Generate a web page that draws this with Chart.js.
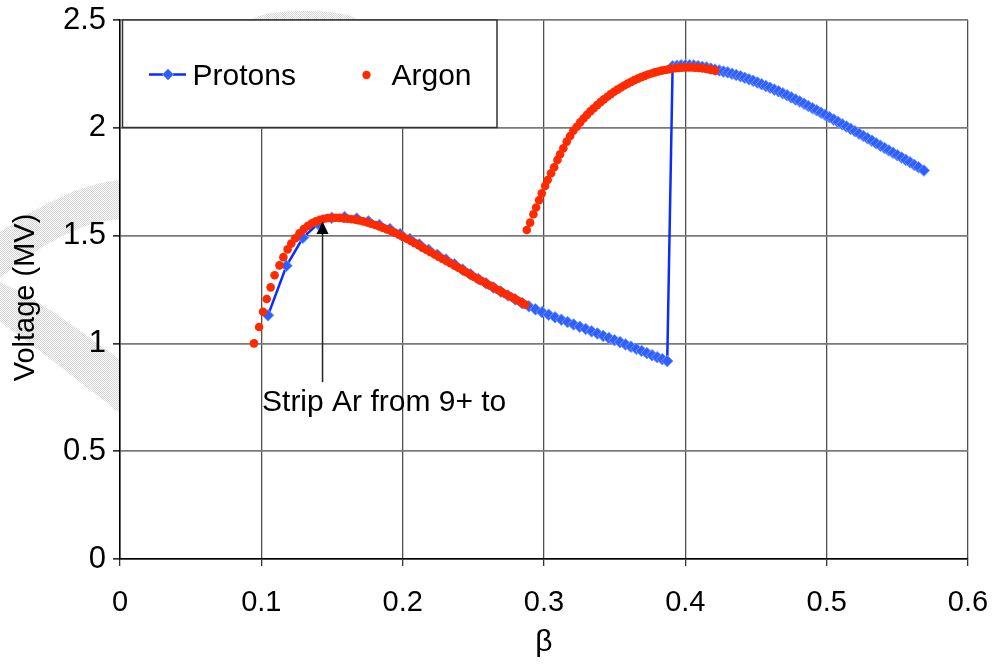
<!DOCTYPE html>
<html>
<head>
<meta charset="utf-8">
<script src="https://cdn.jsdelivr.net/npm/chart.js@4/dist/chart.umd.min.js"></script>
<style>
html,body{margin:0;padding:0;background:#fff;}
#wrap{position:relative;width:997px;height:665px;}
</style>
</head>
<body>
<div id="wrap"><canvas id="c" width="997" height="665"></canvas></div>
<script>
// ---- Data ----
const protonBeta = [
0.1047,0.1178,0.1294,0.1400,0.1498,0.1589,0.1675,0.1757,0.1835,0.1910,
0.1982,0.2051,0.2118,0.2183,0.2246,0.2307,0.2366,0.2424,0.2481,0.2536,
0.2590,0.2643,0.2695,0.2746,0.2796,0.2845,0.2893,0.2940,0.2987,0.3033,
0.3078,0.3123,0.3167,0.3210,0.3253,0.3295,0.3337,0.3378,0.3419,0.3459,
0.3499,0.3538,0.3577,0.3615,0.3653,0.3691,0.3728,0.3765,0.3801,0.3837,0.3872,
0.3910,0.3940,0.3970,0.4000,0.4030,0.4060,0.4090,0.4120,0.4150,0.4180,
0.4210,0.4240,0.4270,0.4300,0.4330,0.4360,0.4390,0.4420,0.4450,0.4480,
0.4510,0.4540,0.4570,0.4600,0.4630,0.4660,0.4690,0.4720,0.4750,0.4780,
0.4810,0.4840,0.4870,0.4900,0.4930,0.4960,0.4990,0.5020,0.5050,0.5080,
0.5110,0.5140,0.5170,0.5200,0.5230,0.5260,0.5290,0.5320,0.5350,0.5380,
0.5410,0.5440,0.5470,0.5500,0.5530,0.5560,0.5590,0.5620,0.5650,0.5688
];
const protonVoltage = [
1.130,1.360,1.490,1.555,1.582,1.586,1.579,1.566,1.549,1.530,
1.507,1.484,1.459,1.434,1.411,1.389,1.367,1.342,1.320,1.299,
1.279,1.259,1.240,1.222,1.204,1.187,1.172,1.158,1.145,1.133,
1.121,1.110,1.099,1.088,1.077,1.067,1.056,1.046,1.035,1.025,
1.015,1.006,0.995,0.985,0.975,0.965,0.955,0.945,0.936,0.927,0.918,
2.285,2.288,2.290,2.290,2.290,2.289,2.286,2.283,2.280,2.275,
2.270,2.266,2.261,2.257,2.251,2.245,2.239,2.232,2.225,2.218,
2.210,2.202,2.194,2.186,2.177,2.169,2.160,2.151,2.141,2.131,
2.122,2.112,2.101,2.091,2.081,2.070,2.060,2.049,2.038,2.027,
2.016,2.006,1.995,1.984,1.973,1.962,1.951,1.940,1.928,1.917,
1.906,1.895,1.884,1.873,1.862,1.851,1.840,1.828,1.817,1.802
];
const argonBeta = [
0.0948,0.0984,0.1012,0.1038,0.1066,0.1094,0.1128,0.1156,0.1186,0.1212,
0.1240,0.1270,0.1300,0.1330,0.1358,0.1386,0.1414,0.1442,0.1470,0.1498,
0.1526,0.1554,0.1582,0.1610,0.1638,0.1666,0.1694,0.1722,0.1750,0.1778,
0.1806,0.1834,0.1862,0.1890,0.1918,0.1946,0.1974,0.2002,0.2030,0.2058,
0.2086,0.2114,0.2142,0.2170,0.2198,0.2226,0.2254,0.2282,0.2310,0.2338,
0.2366,0.2394,0.2422,0.2450,0.2478,0.2506,0.2534,0.2562,0.2590,0.2618,
0.2646,0.2674,0.2702,0.2730,0.2758,0.2786,0.2814,0.2842,0.2868,
0.2878,0.2902,0.2925,0.2944,0.2965,0.2984,0.3008,0.3026,0.3050,0.3072,
0.3095,0.3114,0.3137,0.3161,0.3185,0.3208,0.3232,0.3256,0.3280,0.3304,
0.3328,0.3352,0.3376,0.3400,0.3424,0.3448,0.3472,0.3496,0.3520,0.3544,
0.3568,0.3592,0.3616,0.3640,0.3664,0.3688,0.3712,0.3736,0.3760,0.3784,
0.3808,0.3832,0.3856,0.3880,0.3904,0.3928,0.3952,0.3976,0.4000,0.4024,
0.4048,0.4072,0.4096,0.4120,0.4144,0.4168,0.4192,0.4212
];
const argonVoltage = [
1.000,1.076,1.147,1.206,1.260,1.316,1.362,1.400,1.436,1.463,
1.488,1.511,1.530,1.545,1.557,1.566,1.573,1.578,1.581,1.583,
1.583,1.582,1.580,1.578,1.576,1.574,1.570,1.566,1.561,1.555,
1.549,1.543,1.536,1.529,1.521,1.513,1.504,1.494,1.485,1.475,
1.465,1.455,1.443,1.433,1.423,1.412,1.402,1.392,1.382,1.372,
1.361,1.351,1.341,1.330,1.319,1.308,1.298,1.288,1.278,1.268,
1.258,1.248,1.238,1.228,1.219,1.210,1.199,1.189,1.180,
1.526,1.560,1.599,1.630,1.664,1.696,1.730,1.758,1.789,1.817,
1.851,1.877,1.905,1.936,1.962,1.987,2.005,2.025,2.043,2.060,
2.076,2.091,2.105,2.119,2.132,2.144,2.156,2.167,2.177,2.187,
2.196,2.205,2.213,2.221,2.228,2.235,2.241,2.247,2.252,2.257,
2.261,2.265,2.268,2.271,2.274,2.276,2.278,2.279,2.280,2.280,
2.280,2.279,2.278,2.276,2.274,2.271,2.268,2.265
];
const xTicks = [0, 0.1, 0.2, 0.3, 0.4, 0.5, 0.6];
const yTicks = [0, 0.5, 1, 1.5, 2, 2.5];
const seriesNames = ['Protons', 'Argon'];
const xTitle = 'β';
const yTitle = 'Voltage (MV)';
const annotationText = 'Strip Ar from 9+ to';
const annotationArrow = {x: 0.1433, yTip: 1.565, yTail: 0.82};
const annotationLabel = {x: 0.1005, y: 0.685};

const FONT = '"Liberation Sans", Arial, sans-serif';
const protonLine = '#0a2cff';
const protonFill = '#2f5fff';
const protonEdge = '#6f98ff';
const argonColor = '#ff2a00';

const toPts = (xs, ys) => xs.map((x, i) => ({x: x, y: ys[i]}));

// faint hatched watermark visible outside the plot area
const watermark = {
  id: 'watermark',
  beforeDraw(chart) {
    const ctx = chart.ctx, a = chart.chartArea;
    const pc = document.createElement('canvas');
    pc.width = 2; pc.height = 2;
    const p = pc.getContext('2d');
    p.fillStyle = '#fff'; p.fillRect(0, 0, 2, 2);
    p.fillStyle = '#d2d2d2'; p.fillRect(0, 0, 1, 1); p.fillRect(1, 1, 1, 1);
    const pat = ctx.createPattern(pc, 'repeat');
    ctx.save();
    ctx.beginPath();
    ctx.rect(0, 0, chart.width, a.top);
    ctx.rect(0, a.top, a.left, a.bottom - a.top);
    ctx.clip();
    ctx.fillStyle = pat;
    ctx.beginPath();
    ctx.moveTo(0, 232);
    ctx.bezierCurveTo(40, 205, 80, 184, a.left, 180);
    ctx.lineTo(a.left, 219);
    ctx.bezierCurveTo(80, 222, 40, 245, 0, 278);
    ctx.closePath();
    ctx.fill();
    ctx.beginPath();
    ctx.moveTo(0, 282);
    ctx.bezierCurveTo(40, 300, 80, 330, a.left, 360);
    ctx.lineTo(a.left, 413);
    ctx.bezierCurveTo(80, 382, 40, 350, 0, 322);
    ctx.closePath();
    ctx.fill();
    ctx.beginPath();
    ctx.moveTo(252, a.top);
    ctx.bezierCurveTo(262, 8, 348, 8, 358, a.top);
    ctx.closePath();
    ctx.fill();
    ctx.restore();
  }
};

const legendBox = {
  id: 'legendBox',
  afterDatasetsDraw(chart) {
    const ctx = chart.ctx, a = chart.chartArea;
    ctx.save();
    const L = a.left + 2.5, T = a.top, R = a.left + 377, B = a.top + 107.5;
    ctx.fillStyle = '#fff';
    ctx.fillRect(L, T, R - L, B - T);
    ctx.strokeStyle = '#333';
    ctx.lineWidth = 1.5;
    ctx.strokeRect(L, T, R - L, B - T);
    const sy = T + 54.5;
    ctx.strokeStyle = protonLine;
    ctx.lineWidth = 2.5;
    ctx.beginPath(); ctx.moveTo(a.left + 29, sy); ctx.lineTo(a.left + 66, sy); ctx.stroke();
    const cx = a.left + 48;
    ctx.fillStyle = protonFill; ctx.strokeStyle = protonEdge; ctx.lineWidth = 1;
    ctx.beginPath(); ctx.moveTo(cx, sy - 5.5); ctx.lineTo(cx + 5.5, sy); ctx.lineTo(cx, sy + 5.5); ctx.lineTo(cx - 5.5, sy); ctx.closePath();
    ctx.fill(); ctx.stroke();
    ctx.fillStyle = '#000';
    ctx.font = '30px ' + FONT;
    ctx.textBaseline = 'alphabetic';
    ctx.textAlign = 'left';
    ctx.fillText(seriesNames[0], a.left + 72.5, T + 65);
    ctx.fillStyle = argonColor;
    ctx.beginPath(); ctx.arc(a.left + 246.5, T + 55, 4.2, 0, Math.PI * 2); ctx.fill();
    ctx.fillStyle = '#000';
    ctx.fillText(seriesNames[1], a.left + 271.5, T + 65);
    ctx.restore();
  }
};

const annot = {
  id: 'annot',
  afterDatasetsDraw(chart) {
    const ctx = chart.ctx, xs = chart.scales.x, ys = chart.scales.y, a = chart.chartArea;
    const ax = xs.getPixelForValue(annotationArrow.x);
    const tip = ys.getPixelForValue(annotationArrow.yTip);
    const tail = ys.getPixelForValue(annotationArrow.yTail);
    ctx.save();
    ctx.strokeStyle = '#222';
    ctx.lineWidth = 1.5;
    ctx.beginPath(); ctx.moveTo(ax, tip + 10); ctx.lineTo(ax, tail); ctx.stroke();
    ctx.fillStyle = '#000';
    ctx.beginPath(); ctx.moveTo(ax, tip); ctx.lineTo(ax + 6, tip + 12.5); ctx.lineTo(ax - 6, tip + 12.5); ctx.closePath(); ctx.fill();
    ctx.font = '30px ' + FONT;
    ctx.textBaseline = 'alphabetic';
    ctx.textAlign = 'left';
    ctx.fillText(annotationText, xs.getPixelForValue(annotationLabel.x), ys.getPixelForValue(annotationLabel.y));
    ctx.translate(26, (a.top + a.bottom) / 2 + 8);
    ctx.rotate(-Math.PI / 2);
    ctx.textAlign = 'center';
    ctx.textBaseline = 'middle';
    ctx.font = '29px ' + FONT;
    ctx.fillText(yTitle, 0, 0);
    ctx.restore();
  }
};

new Chart(document.getElementById('c'), {
  type: 'scatter',
  data: {
    datasets: [
      {
        label: seriesNames[1],
        data: toPts(argonBeta, argonVoltage),
        showLine: false,
        pointStyle: 'circle',
        pointRadius: 4.3,
        pointBorderWidth: 0,
        backgroundColor: argonColor,
        borderColor: argonColor,
        order: 0
      },
      {
        label: seriesNames[0],
        data: toPts(protonBeta, protonVoltage),
        showLine: true,
        borderColor: protonLine,
        borderWidth: 2.5,
        pointStyle: 'rectRot',
        pointRadius: 5.8,
        pointBorderWidth: 1,
        pointBackgroundColor: protonFill,
        pointBorderColor: protonEdge,
        tension: 0,
        order: 1
      }
    ]
  },
  options: {
    responsive: false,
    animation: false,
    devicePixelRatio: 1,
    layout: {padding: {top: 20, right: 29, left: 0, bottom: 0}},
    plugins: {legend: {display: false}, tooltip: {enabled: false}},
    scales: {
      x: {
        type: 'linear', min: 0, max: 0.6,
        afterBuildTicks: s => { s.ticks = xTicks.map(v => ({value: v})); },
        afterFit: s => { s.height = 106; s.paddingLeft = 0; s.paddingRight = 0; },
        ticks: {color: '#000', font: {family: FONT, size: 29}, padding: 20,
                callback: v => String(+v.toFixed(1))},
        grid: {color: '#505050', lineWidth: 1.3, tickLength: 7, tickColor: '#333'},
        border: {color: '#000', width: 1.5},
        title: {display: true, text: xTitle, color: '#000', font: {family: FONT, size: 30}, padding: {top: 0, bottom: 4}}
      },
      y: {
        type: 'linear', min: 0, max: 2.5,
        afterBuildTicks: s => { s.ticks = yTicks.map(v => ({value: v})); },
        afterFit: s => { s.width = 120; s.paddingTop = 0; s.paddingBottom = 0; },
        ticks: {color: '#000', font: {family: FONT, size: 31}, padding: 7,
                callback: v => String(+v.toFixed(1))},
        grid: {color: '#7a7a7a', lineWidth: 1.7, tickLength: 7, tickColor: '#333'},
        border: {color: '#000', width: 1.5},
        title: {display: false}
      }
    }
  },
  plugins: [watermark, legendBox, annot]
});
</script>
</body>
</html>
